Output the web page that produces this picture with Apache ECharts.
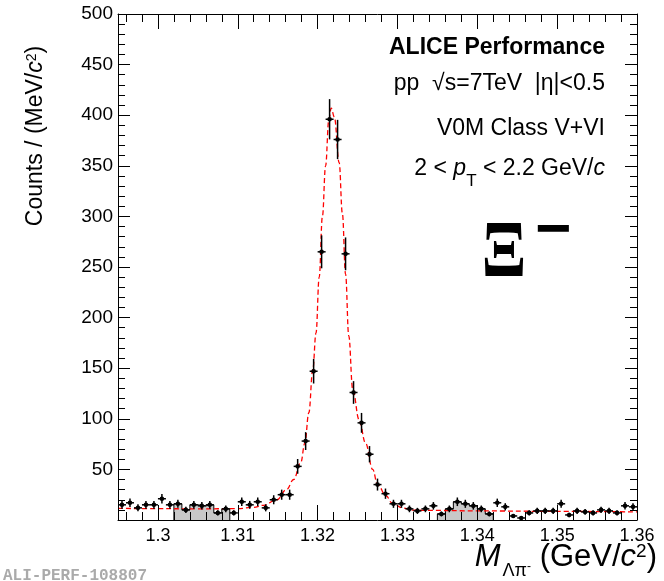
<!DOCTYPE html>
<html>
<head>
<meta charset="utf-8">
<title>Xi- invariant mass, ALICE pp 7 TeV</title>
<script src="https://cdn.jsdelivr.net/npm/echarts@6.0.0/dist/echarts.min.js"></script>
<style>
  html, body { margin: 0; padding: 0; background: #fff; }
  #chart { width: 664px; height: 581px; }
</style>
</head>
<body>
<div id="chart"></div>
<script>
// bin centres in GeV/c^2 (1 MeV bins)
var massBins = [
  1.2955, 1.2965, 1.2975, 1.2985, 1.2995, 1.3005, 1.3015, 1.3025, 1.3035, 1.3045,
  1.3055, 1.3065, 1.3075, 1.3085, 1.3095, 1.3105, 1.3115, 1.3125, 1.3135, 1.3145,
  1.3155, 1.3165, 1.3175, 1.3185, 1.3195, 1.3205, 1.3215, 1.3225, 1.3235, 1.3245,
  1.3255, 1.3265, 1.3275, 1.3285, 1.3295, 1.3305, 1.3315, 1.3325, 1.3335, 1.3345,
  1.3355, 1.3365, 1.3375, 1.3385, 1.3395, 1.3405, 1.3415, 1.3425, 1.3435, 1.3445,
  1.3455, 1.3465, 1.3475, 1.3485, 1.3495, 1.3505, 1.3515, 1.3525, 1.3535, 1.3545,
  1.3555, 1.3565, 1.3575, 1.3585, 1.3595
];
var counts = [
  15, 17, 12, 15, 15, 21, 15, 16, 10, 15,
  14, 15, 7, 11, 7, 18, 15, 18, 12, 20,
  25, 25, 53, 78, 147, 265, 396, 376, 263, 126,
  96, 65, 35, 26, 16, 16, 11, 9, 11, 14,
  6, 11, 18, 16, 14, 11, 6, 17, 13, 4,
  2, 7, 9, 9, 9, 16, 5, 9, 8, 7,
  10, 9, 7, 14, 13
];
var HALF_BIN = 0.0005;

// sideband bins (first/last index into massBins), drawn grey
var sidebandLeft = [7, 13];
var sidebandRight = [40, 46];

// fit curve
var fitMass = [
  1.2950, 1.3000, 1.3050, 1.3100, 1.3120, 1.3132, 1.3149, 1.3161, 1.3170, 1.3179,
  1.3184, 1.3189, 1.3194, 1.3198, 1.3202, 1.3206, 1.3210, 1.3214, 1.3217, 1.3221,
  1.3227, 1.3231, 1.3235, 1.3239, 1.3244, 1.3252, 1.3260, 1.3269, 1.3275, 1.3286,
  1.3293, 1.3306, 1.3319, 1.3331, 1.3400, 1.3500, 1.3600
];
var fitCounts = [
  11.5, 11.2, 11.0, 11.2, 12.5, 14.5, 20, 30, 40, 57,
  76, 106, 149, 185, 240, 300, 350, 395, 407, 398,
  353, 303, 243, 182, 129, 99, 76, 50, 35, 23.7,
  17, 12, 9.8, 9.6, 9.0, 8.5, 8.0
];

var FONT = "'Liberation Sans', Arial, Helvetica, sans-serif";

var chart = echarts.init(document.getElementById('chart'));

function sidebandSteps(range) {
  var pts = [[massBins[range[0]] - HALF_BIN, 0]];
  for (var i = range[0]; i <= range[1]; i++) {
    pts.push([massBins[i] - HALF_BIN, counts[i]]);
  }
  var end = massBins[range[1]] + HALF_BIN;
  pts.push([end, counts[range[1]]]);
  pts.push([end, 0]);
  return pts;
}

function renderPoint(params, api) {
  var m = api.value(0), c = api.value(1), err = Math.sqrt(c);
  var mid = api.coord([m, c]);
  var top = api.coord([m, c + err]);
  var bot = api.coord([m, Math.max(c - err, 0)]);
  var lft = api.coord([m - HALF_BIN, c]);
  var rgt = api.coord([m + HALF_BIN, c]);
  var st = { stroke: '#000', lineWidth: 1.5 };
  return {
    type: 'group',
    children: [
      { type: 'line', shape: { x1: mid[0], y1: top[1], x2: mid[0], y2: bot[1] }, style: st },
      { type: 'line', shape: { x1: lft[0], y1: mid[1], x2: rgt[0], y2: mid[1] }, style: st },
      { type: 'circle', shape: { cx: mid[0], cy: mid[1], r: 2.3 }, style: { fill: '#000' } }
    ]
  };
}

function xAxisDef(pos) {
  return {
    type: 'value', position: pos, min: 1.295, max: 1.36,
    splitNumber: 7, minInterval: 0.01, maxInterval: 0.01, z: 5,
    axisLine: { show: true, onZero: false, lineStyle: { color: '#000', width: 1 } },
    axisTick: { show: true, inside: true, length: 15, lineStyle: { color: '#000', width: 1 } },
    minorTick: { show: true, splitNumber: 5, length: 8, lineStyle: { color: '#000', width: 1 } },
    axisLabel: {
      show: pos === 'bottom', margin: 7, showMinLabel: false,
      fontFamily: FONT, fontSize: 18, color: '#000'
    },
    splitLine: { show: false }
  };
}

function yAxisDef(pos) {
  return {
    type: 'value', position: pos, min: 0, max: 500, interval: 50, z: 5,
    axisLine: { show: true, onZero: false, lineStyle: { color: '#000', width: 1 } },
    axisTick: { show: true, inside: true, length: 12, lineStyle: { color: '#000', width: 1 } },
    minorTick: { show: true, splitNumber: 5, length: 7, lineStyle: { color: '#000', width: 1 } },
    axisLabel: {
      show: pos === 'left', margin: 5, showMinLabel: false,
      fontFamily: FONT, fontSize: 19, color: '#000'
    },
    splitLine: { show: false }
  };
}

var plainText = { fontFamily: FONT, fontSize: 23, fill: '#000', align: 'right', verticalAlign: 'middle' };

var option = {
  animation: false,
  backgroundColor: '#fff',
  grid: { left: 118, top: 14, right: 27, bottom: 61, containLabel: false },
  xAxis: [xAxisDef('bottom'), xAxisDef('top')],
  yAxis: [yAxisDef('left'), yAxisDef('right')],
  series: [
    {
      type: 'line', step: 'end', data: sidebandSteps(sidebandLeft),
      symbol: 'none', z: 1,
      lineStyle: { color: '#000', width: 1 },
      areaStyle: { color: '#c8c8c8', opacity: 1 }
    },
    {
      type: 'line', step: 'end', data: sidebandSteps(sidebandRight),
      symbol: 'none', z: 1,
      lineStyle: { color: '#000', width: 1 },
      areaStyle: { color: '#c8c8c8', opacity: 1 }
    },
    {
      type: 'line', z: 2, symbol: 'none', smooth: 0.4, smoothMonotone: 'x',
      data: fitMass.map(function (m, i) { return [m, fitCounts[i]]; }),
      lineStyle: { color: '#ff0000', width: 1.3, type: [5, 3] }
    },
    {
      type: 'custom', z: 3,
      data: massBins.map(function (m, i) { return [m, counts[i]]; }),
      encode: { x: 0, y: 1 },
      renderItem: renderPoint
    }
  ],
  graphic: [
    { type: 'text', x: 605, y: 48, style: Object.assign({}, plainText, { text: 'ALICE Performance', fontWeight: 'bold' }) },
    { type: 'text', x: 605, y: 84, style: Object.assign({}, plainText, { text: 'pp  √s=7TeV  |η|<0.5' }) },
    { type: 'text', x: 605, y: 129, style: Object.assign({}, plainText, { text: 'V0M Class V+VI' }) },
    {
      type: 'text', x: 605, y: 169,
      style: {
        text: '{n|2 < }{i|p}{sub|T}{n| < 2.2 GeV/}{i|c}',
        align: 'right', verticalAlign: 'middle', fill: '#000',
        rich: {
          n: { fontFamily: FONT, fontSize: 23 },
          i: { fontFamily: FONT, fontSize: 23, fontStyle: 'italic' },
          sub: { fontFamily: FONT, fontSize: 17, padding: [25, 0, 0, 0] }
        }
      }
    },
    // particle label
    { type: 'text', x: 504, y: 255, scaleX: 0.82, style: { text: 'Ξ', fontFamily: "'Liberation Serif', 'DejaVu Serif', serif", fontSize: 80, fontWeight: 'bold', fill: '#000', align: 'center', verticalAlign: 'middle' } },
    { type: 'text', x: 553, y: 232, style: { text: '−', fontFamily: FONT, fontSize: 62, fontWeight: 'bold', fill: '#000', align: 'center', verticalAlign: 'middle' } },
    {
      type: 'text', x: 657, y: 557,
      style: {
        text: '{i|M}{sub|Λπ}{sup|-}{n| (GeV/}{i|c}{sup2|2}{n|)}',
        align: 'right', verticalAlign: 'middle', fill: '#000',
        rich: {
          n: { fontFamily: FONT, fontSize: 31 },
          i: { fontFamily: FONT, fontSize: 31, fontStyle: 'italic' },
          sub: { fontFamily: FONT, fontSize: 18, padding: [28, 0, 0, 2] },
          sup: { fontFamily: FONT, fontSize: 12, padding: [20, 0, 0, 0] },
          sup2: { fontFamily: FONT, fontSize: 19, padding: [0, 0, 10, 0] }
        }
      }
    },
    {
      type: 'text', x: 36, y: 136, rotation: Math.PI / 2,
      style: {
        text: '{n|Counts / (MeV/}{i|c}{sup|2}{n|)}',
        align: 'center', verticalAlign: 'middle', fill: '#000',
        rich: {
          n: { fontFamily: FONT, fontSize: 23 },
          i: { fontFamily: FONT, fontSize: 23, fontStyle: 'italic' },
          sup: { fontFamily: FONT, fontSize: 14, padding: [0, 0, 8, 0] }
        }
      }
    },
    { type: 'text', x: 3, y: 576, style: { text: 'ALI-PERF-108807', fontFamily: "'Liberation Mono', 'DejaVu Sans Mono', monospace", fontSize: 16, fontWeight: 'bold', fill: '#aaaaaa', align: 'left', verticalAlign: 'middle' } }
  ]
};

chart.setOption(option);
</script>
</body>
</html>
